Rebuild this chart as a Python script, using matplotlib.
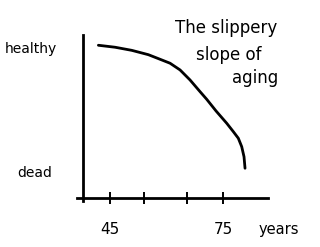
import matplotlib
matplotlib.use("Agg")
import matplotlib.pyplot as plt

# age (years) vs health (0 = dead, 100 = healthy)
ages = [41.9, 46.33, 50.76, 55.16, 58.26, 60.92, 63.57, 66.22, 68.87,
        70.65, 73.12, 75.95, 77.71, 79.03, 79.93, 80.54, 80.81]
health = [102.2, 100.6, 98.1, 94.6, 90.9, 87.7, 82.3, 74.2, 64.8,
          58.6, 49.2, 39.3, 32.5, 27.2, 20.4, 12.3, 3.0]

tick_ages = [45, 54, 65.4, 75]
tick_labels = ["45", "", "", "75"]
title_lines = ["The slippery", "slope of", "aging"]

fig = plt.figure(figsize=(3.2, 2.47), dpi=100)
ax = fig.add_axes([0, 0, 1, 1])
ax.set_xlim(15.8, 100.7)
ax.set_ylim(-60.5, 138.7)

ax.plot(ages, health, color="black", lw=2.0, solid_capstyle="round",
        solid_joinstyle="round")

# axes drawn as crossed lines
for s in ("top", "right"):
    ax.spines[s].set_visible(False)
ax.spines["left"].set_position(("data", 37.8))
ax.spines["left"].set_bounds(-23, 110.5)
ax.spines["bottom"].set_position(("data", -21))
ax.spines["bottom"].set_bounds(36.2, 86.9)
for s in ("left", "bottom"):
    ax.spines[s].set_linewidth(2.0)

ax.set_yticks([])
ax.set_xticks(tick_ages)
ax.set_xticklabels(tick_labels)
ax.tick_params(axis="x", direction="inout", length=8, width=1.4, pad=13,
               labelsize=11)

ax.text(30.9, 96, "healthy", ha="right", va="baseline", fontsize=10)
ax.text(29.6, -4, "dead", ha="right", va="baseline", fontsize=10)
ax.text(89.8, -50, "years", ha="center", va="baseline", fontsize=10.5)

ax.text(75.8, 112.1, title_lines[0], ha="center", va="baseline", fontsize=12)
ax.text(76.6, 90.3, title_lines[1], ha="center", va="baseline", fontsize=12)
ax.text(83.5, 71.8, title_lines[2], ha="center", va="baseline", fontsize=12)

fig.savefig("out.png", dpi=100)
